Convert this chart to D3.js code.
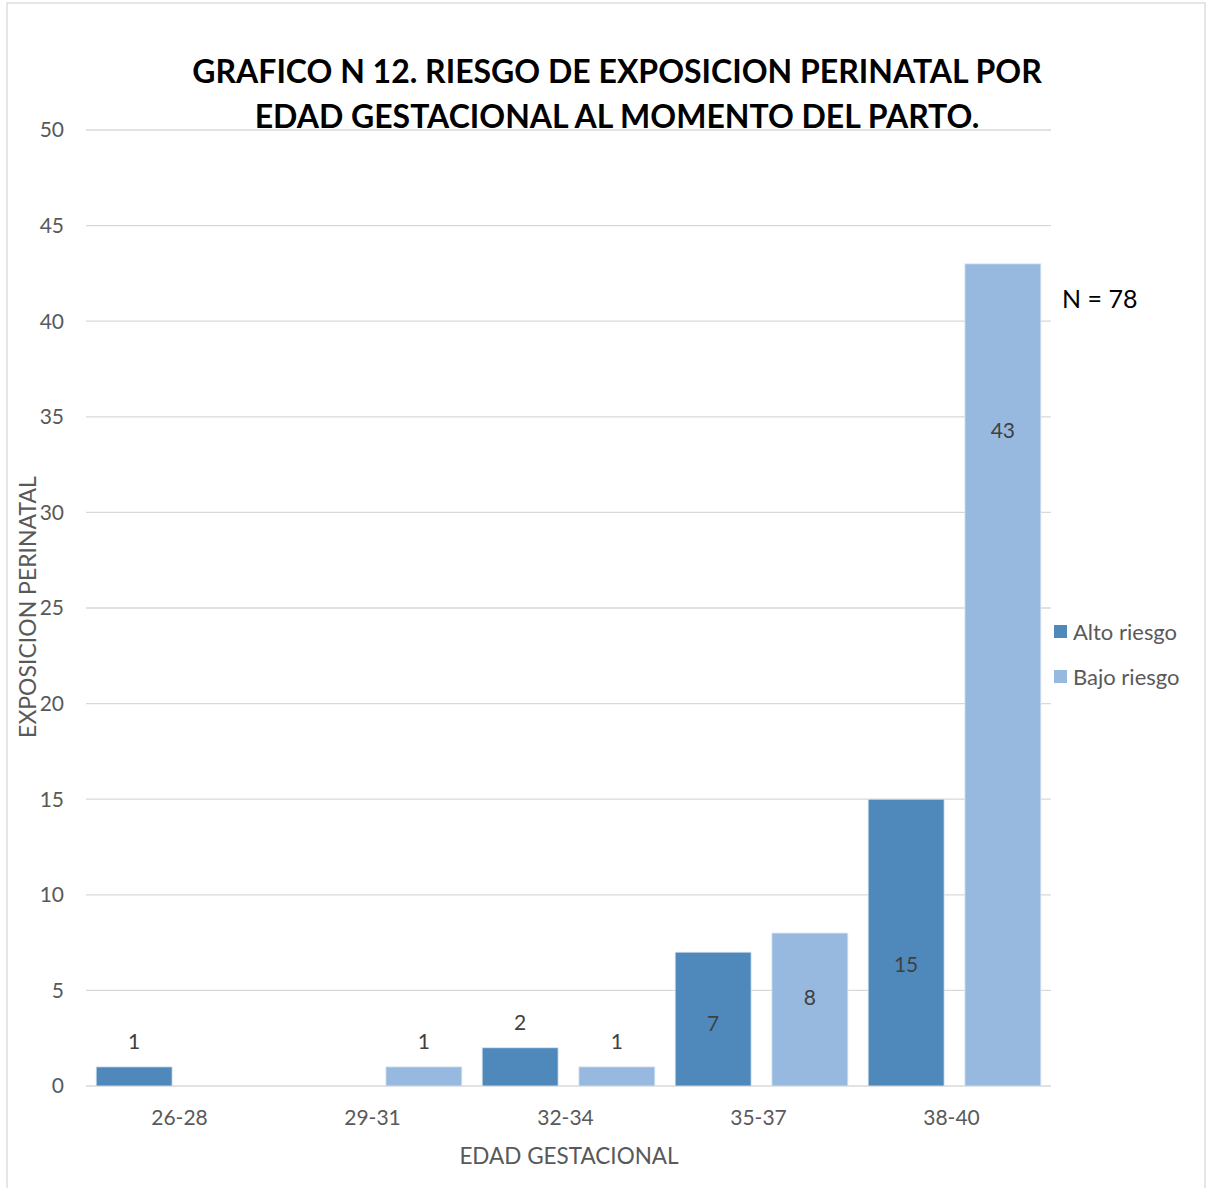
<!DOCTYPE html>
<html><head><meta charset="utf-8">
<script src="https://cdn.jsdelivr.net/npm/d3@7"></script>
<style>body{margin:0;background:#fff}svg{display:block}</style>
</head><body>
<script>
const categories = ["26-28","29-31","32-34","35-37","38-40"];
const altoRiesgo = [1, 0, 2, 7, 15];
const bajoRiesgo = [0, 1, 1, 8, 43];
// label anchor (in data units); null = just above the bar
const altoLabelAt = [null, null, null, 3.25, 6.35];
const bajoLabelAt = [null, null, null, 4.6, 34.3];
const yTicks = [0,5,10,15,20,25,30,35,40,45,50];
const seriesNames = ["Alto riesgo","Bajo riesgo"];
const colors = ["#4f89bc","#97b9df"];

const W = 1209, H = 1188;
const font = "Lato, 'Open Sans', sans-serif";
const svg = d3.select("body").append("svg").attr("width", W).attr("height", H);
svg.append("rect").attr("x",7).attr("y",3).attr("width",1198).attr("height",1200)
  .attr("fill","#fff").attr("stroke","#d9d9d9").attr("stroke-width",1.3);

const x0 = 86, x1 = 1051, yTop = 130, yBot = 1086;
const x = d3.scaleBand().domain(categories).range([x0, x1]).paddingInner(0).paddingOuter(0);
const y = d3.scaleLinear().domain([0, 50]).range([yBot, yTop]);
const inner = d3.scaleBand().domain([0,1]).range([0, x.bandwidth()]).paddingInner(0.215).paddingOuter(0.105);

// gridlines
svg.append("g").selectAll("line").data(yTicks).join("line")
  .attr("x1", x0).attr("x2", x1).attr("y1", d=>y(d)).attr("y2", d=>y(d))
  .attr("stroke","#d9d9d9").attr("stroke-width",1.3);

// y tick labels
svg.append("g").selectAll("text").data(yTicks).join("text")
  .attr("x", 64).attr("y", d=>y(d)).attr("dy","0.35em").attr("text-anchor","end")
  .attr("font-family", font).attr("font-size", 21).attr("fill","#595959").text(d=>d);

// x tick labels
svg.append("g").selectAll("text").data(categories).join("text")
  .attr("x", d=>x(d)+x.bandwidth()/2 - 3).attr("y", 1125).attr("text-anchor","middle")
  .attr("font-family", font).attr("font-size", 21).attr("fill","#595959").text(d=>d);

// bars
const series = [altoRiesgo, bajoRiesgo];
const labelAt = [altoLabelAt, bajoLabelAt];
series.forEach((vals, s) => {
  const g = svg.append("g");
  g.selectAll("rect").data(vals.map((v,i)=>({v,i}))).join("rect")
    .filter(d=>d.v>0)
    .attr("x", d=>x(categories[d.i]) + inner(s))
    .attr("width", inner.bandwidth())
    .attr("y", d=>y(d.v)).attr("height", d=>y(0)-y(d.v))
    .attr("fill", colors[s]).attr("stroke","#dce6f2").attr("stroke-width",0.8);
  g.selectAll("text").data(vals.map((v,i)=>({v,i}))).join("text")
    .filter(d=>d.v>0)
    .attr("x", d=>x(categories[d.i]) + inner(s) + inner.bandwidth()/2)
    .attr("y", d=> labelAt[s][d.i] == null ? y(d.v) - 25 : y(labelAt[s][d.i]))
    .attr("dy","0.35em").attr("text-anchor","middle")
    .attr("font-family", font).attr("font-size", 21).attr("fill","#404040").text(d=>d.v);
});

// title
const title = svg.append("text").attr("text-anchor","middle").attr("font-family", font)
  .attr("font-weight","bold").attr("font-size", 32).attr("fill","#000");
title.append("tspan").attr("x", 617).attr("y", 83).text("GRAFICO N 12. RIESGO DE EXPOSICION PERINATAL POR");
title.append("tspan").attr("x", 617).attr("y", 128).text("EDAD GESTACIONAL AL MOMENTO DEL PARTO.");

// axis titles
svg.append("text").attr("transform","translate(36,607) rotate(-90)").attr("text-anchor","middle")
  .attr("font-family", font).attr("font-size", 23).attr("fill","#595959").text("EXPOSICION PERINATAL");
svg.append("text").attr("x", 569).attr("y", 1164).attr("text-anchor","middle")
  .attr("font-family", font).attr("font-size", 22.5).attr("fill","#595959").text("EDAD GESTACIONAL");

// N annotation
svg.append("text").attr("x", 1062).attr("y", 308).attr("font-family", font)
  .attr("font-size", 25).attr("fill","#000").text("N = 78");

// legend
const leg = svg.append("g").selectAll("g").data(seriesNames).join("g")
  .attr("transform", (d,i)=>`translate(1054,${625 + i*45})`);
leg.append("rect").attr("width",13).attr("height",13).attr("fill",(d,i)=>colors[i]);
leg.append("text").attr("x",19).attr("y",7).attr("dy","0.35em").attr("font-family", font)
  .attr("font-size", 22).attr("fill","#595959").text(d=>d);
</script>
</body></html>
